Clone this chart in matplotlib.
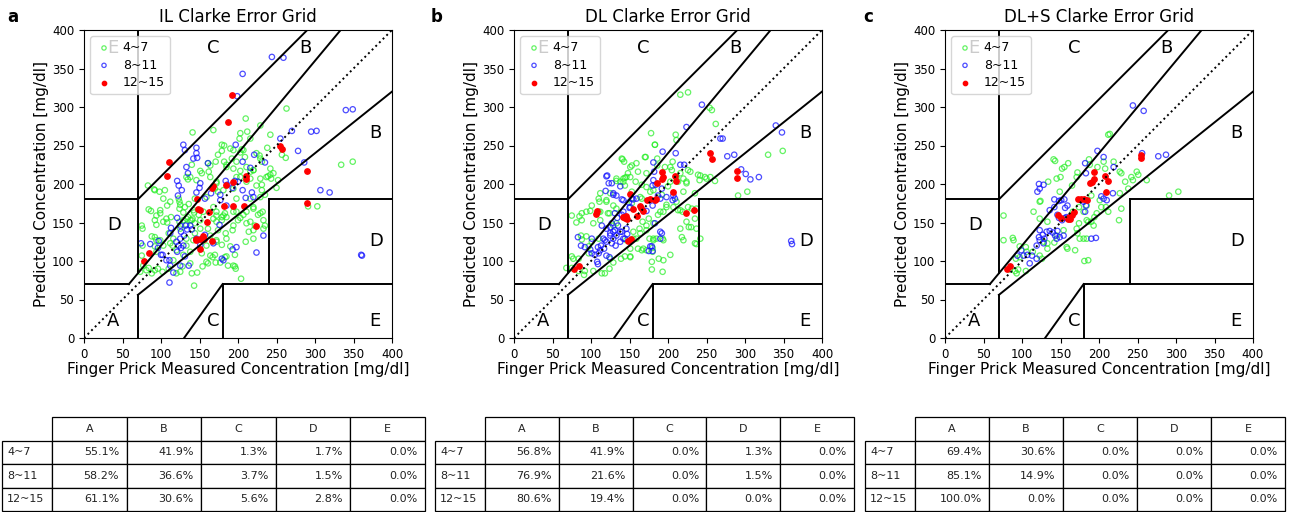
import numpy as np
import matplotlib
matplotlib.use("Agg")
import matplotlib.pyplot as plt

# ---------------- data ----------------
titles = ["IL Clarke Error Grid", "DL Clarke Error Grid", "DL+S Clarke Error Grid"]
panel_letters = ["a", "b", "c"]
group_labels = ["4~7", "8~11", "12~15"]
zones = ["A", "B", "C", "D", "E"]

# panel a (IL)
il_47 = [(263,298),(210,285),(229,276),(168,270),(141,267),(203,266),(212,268),(216,259),(202,259),(242,264),(182,250),
         (194,244),(205,245),(203,241),(238,247),(179,243),
         (228,237),(229,233),(231,229),(257,238),(262,234),(171,229),(182,229),(209,235),(198,229),(192,233),
         (164,224),(162,216),(151,217),(185,222),(203,217),(211,222),(216,216),(242,220),(220,218),(334,225),(349,229),
         (138,209),(135,206),(164,209),(172,203),(242,212),(243,207),(239,210),(229,207),(203,209),(211,203),
         (83,198),(91,193),(170,194),(174,190),(252,205),(250,195),(224,198),(231,192),(194,194),(181,192),
         (98,190),(103,181),(123,181),(124,177),(136,174),(144,181),(159,183),(198,181),(216,181),(229,183),(235,186),
         (108,172),(124,168),(129,163),(143,163),(155,164),(168,170),(198,164),(207,160),(203,156),(226,160),(229,162),
         (232,164),(220,168),(84,167),(87,165),(99,162),(291,171),(303,171),
         (113,157),(107,155),(108,150),(124,151),(133,155),(138,153),(141,155),(149,160),(151,153),(168,155),(172,159),
         (179,157),(181,159),(185,157),(183,162),(194,146),(94,147),(75,146),(76,142),(222,146),(235,146),(94,159),(216,151),
         (193,140),(184,136),(185,129),(214,138),(220,129),(233,142),(210,125),(94,127),(92,131),(110,136),(116,129),
         (133,129),(144,136),(164,133),(172,125),(151,142),(125,142),
         (76,120),(75,107),(164,107),(167,105),(138,112),(133,120),(159,120),(115,120),(94,112),(103,120),
         (77,94),(81,88),(73,86),(84,91),(88,84),(92,88),(96,90),(110,90),(120,84),(128,93),(140,84),(147,85),(154,93),
         (159,99),(171,98),(177,98),(183,105),(187,94),(194,94),(197,90),(204,77),(143,68),(102,86),(125,86),
         (179,251),(190,246),(174,238),(207,244),(224,240),(161,227),(185,225),(194,220),(198,209),(153,214),(140,225),
         (133,209),(146,205),(172,201),(220,218),(216,207),(231,199),(237,209),(246,214),(92,192),(105,192),(112,177),
         (125,173),(131,170),(142,166),(135,157),(140,153),(144,149),(129,153),(133,147),(99,166),(92,153),(103,151),
         (88,132),(99,127),(112,123),(92,119),(172,164),(179,153),(194,164),(172,151),(161,142),(174,140),(200,153),
         (211,149),(220,140),(211,164),(220,170),(233,153),(172,127),(179,121),(190,119),(196,108),(185,106),(170,108),
         (153,110),(142,127),(129,108),(120,114),(116,101),(138,97),(161,97),(196,93)]
il_811 = [(244,365),(259,364),(206,343),(199,314),(340,296),(349,297),(255,259),(270,269),(295,268),(302,269),(278,243),
          (286,228),(307,192),(319,189),(361,107),(360,108),
          (129,251),(131,244),(146,247),(146,240),(142,233),(147,234),(197,251),(221,238),(235,228),(216,221),(206,229),
          (121,204),(123,198),(127,192),(122,185),(133,222),(135,214),(161,227),(150,195),(146,189),(151,201),
          (184,204),(193,195),(196,204),(200,203),(206,192),(210,182),(218,189),(220,183),(165,188),(157,181),(177,179),
          (185,172),(177,186),(186,199),
          (121,156),(113,143),(125,146),(126,138),(132,146),(134,141),(112,136),(125,129),(129,120),(123,120),(126,117),
          (121,112),(138,146),(130,133),(120,125),
          (74,123),(86,122),(97,126),(96,117),(100,108),(102,108),(107,101),(111,101),(112,94),(111,72),(116,85),(136,94),
          (125,94),(131,106),(168,123),(176,147),(179,103),(181,101),(193,115),(198,118),(224,111),(233,133),(151,121),
          (146,129),(140,141),(157,134)]
il_1215 = [(192,315),(187,280),(110,229),(108,210),(255,250),(257,245),(290,217),(289,175),(166,195),(168,198),(184,199),
           (193,202),(211,211),(210,206),(147,180),(151,166),(162,164),(160,151),(193,172),(208,172),(224,146),(155,133),
           (150,129),(145,128),(146,127),(156,128),(151,115),(166,126),(84,110),(78,100),(148,167),(182,172)]

# panel b (DL)
dl_47 = [(216,316),(226,319),(254,299),(257,296),(262,278),(210,264),(211,257),(178,266),(183,251),(171,235),(141,232),
         (143,229),(159,227),(153,224),(148,214),(146,209),(133,204),(142,207),(144,208),(158,203),(166,199),(172,196),
         (186,233),(186,224),(206,229),(203,222),(226,218),(229,216),(216,214),(220,207),(224,203),(242,211),(241,205),
         (250,207),(255,209),(261,204),(330,238),(349,243),(291,185),(303,190),(110,181),(111,177),(120,179),(125,188),
         (75,159),(88,162),(85,158),(99,165),(81,150),(112,164),(129,146),(133,149),(75,106),(77,103),(68,91),(75,91),
         (84,87),(91,82),(92,87),(103,87),(114,84),(118,84),(124,90),(87,133),(88,128),(97,119),(101,125),(125,103),
         (129,98),(139,103),(144,106),(151,105),(151,116),(166,114),(168,116),(176,129),(181,129),(185,129),(193,129),
         (180,117),(180,112),(188,103),(194,101),(193,86),(179,99),(179,89),(227,144),(230,144),(218,131),(220,127),
         (237,122),(242,129),(231,168),(237,168),(213,166),(219,164),
         (138,203),(144,198),(153,190),(166,181),(177,190),(167,151),(172,146),(187,160),(194,164),(198,170),(207,170),
         (211,177),(220,190),(235,188),(213,203),(203,203),(175,155),(163,142),(155,138),(110,164),(101,172),(124,162),
         (129,172),(110,129),(97,110),(84,103),(146,127),(159,129),(235,155),
         (183,251),(170,235),(140,233),(151,222),(161,216),(133,207),(142,203),(151,209),(172,214),(196,222),(205,218),
         (211,209),(224,201),(239,212),(248,209),(112,188),(120,177),(94,164),(88,153),(103,149),(94,132),(112,153),
         (122,162),(133,168),(153,175),(164,183),(181,192),(192,186),(200,197),(198,173),(190,164),(181,149),(172,140),
         (164,136),(155,129),(181,127),(194,127),(172,114),(161,116),(151,106),(203,108),(216,142),(224,151),(216,166),
         (226,170),(237,142),(235,123)]
dl_811 = [(244,303),(224,274),(268,259),(271,259),(193,242),(210,240),(277,236),(286,238),(340,276),(348,267),(295,219),
          (301,213),(307,206),(318,209),(216,225),(221,225),(181,228),(182,216),(121,211),(123,201),(119,191),(129,186),
          (133,185),(140,180),(149,176),(151,170),(181,205),(180,198),(184,199),(192,194),(187,185),(190,181),(198,183),
          (207,185),(206,179),(209,181),(180,172),(159,181),(155,180),(142,164),(140,160),(150,169),(131,162),(134,156),
          (172,165),(183,149),(146,142),
          (114,146),(120,142),(125,144),(129,138),(135,146),(140,138),(125,133),(116,129),(120,125),(127,123),(132,120),
          (138,125),(144,129),(147,135),(133,133),(129,129),
          (83,131),(87,120),(92,118),(99,115),(101,110),(105,108),(110,110),(112,114),(108,99),(109,96),(120,107),
          (124,105),(113,120),(117,116),(179,119),(175,113),(180,113),(360,126),(361,122),(190,138),(192,136),
          (120,210),(127,201),(138,197),(129,188),(142,179),(153,181),(127,149),(131,140),(125,136),(138,138),(142,129),
          (118,127),(109,118),(101,129),(177,119),(190,129)]
dl_1215 = [(255,240),(257,233),(290,217),(289,208),(192,215),(192,207),(194,209),(209,211),(211,204),(206,189),(186,201),
           (151,187),(173,179),(176,181),(183,179),(185,181),(163,171),(165,169),(167,165),(155,168),(142,157),(144,156),
           (147,155),(145,159),(108,165),(106,161),(150,127),(152,129),(148,126),(223,162),(234,166),(84,94),(78,89),
           (160,158)]

# panel c (DL+S)
dls_47 = [(212,264),(214,265),(141,232),(143,230),(152,220),(155,222),(160,227),(145,207),(150,209),(134,203),(172,215),
          (171,209),(187,232),(188,225),(198,222),(206,229),(208,220),(219,229),(227,216),(229,214),(249,216),(251,212),
          (242,209),(244,205),(262,205),(234,203),(238,194),(227,188),(291,185),(303,190),(123,177),(124,178),(76,159),
          (76,127),(88,130),(89,127),(97,119),(105,118),(97,105),(92,103),(84,89),(91,87),(93,84),(95,89),(105,87),
          (114,112),(123,107),(126,103),(133,123),(133,116),(142,124),(158,118),(159,116),(169,114),(172,136),(175,129),
          (180,129),(184,129),(181,100),(186,101),(184,153),(186,151),(190,151),(193,146),(194,157),(197,162),(203,170),
          (209,170),(212,164),(166,164),(174,170),(174,149),(171,142),(229,168),(226,153),(190,185),(201,179),(123,155),
          (133,151),(115,164),(149,190),(165,198),(145,133),(154,140),(180,164),(184,172),(128,125),(106,112)]
dls_811 = [(244,302),(258,295),(198,243),(206,235),(256,240),(277,236),(287,238),(182,227),(183,214),(219,222),(122,200),
           (123,194),(120,190),(128,199),(142,180),(148,178),(151,179),(155,180),(142,170),(136,166),(156,169),(159,172),
           (180,177),(183,172),(203,184),(206,181),(210,179),(218,188),(146,160),(148,156),(152,153),(156,156),(158,157),
           (123,140),(127,134),(129,129),(132,138),(136,139),(140,137),(143,133),(145,129),(149,131),(146,139),(122,131),
           (123,127),(128,123),(119,120),(99,114),(102,107),(107,108),(113,107),(110,97),(94,107),(119,103),(154,133),
           (190,129),(196,130),(182,164)]
dls_1215 = [(254,238),(255,234),(193,216),(194,207),(191,202),(208,211),(212,204),(209,190),(188,201),(173,180),(176,180),
            (184,179),(180,181),(168,164),(165,160),(147,160),(150,156),(160,154),(162,155),(161,157),(84,94),(80,90)]

# zone percentages (rows: 4~7, 8~11, 12~15; cols: A..E)
il_table = [["55.1%", "41.9%", "1.3%", "1.7%", "0.0%"],
            ["58.2%", "36.6%", "3.7%", "1.5%", "0.0%"],
            ["61.1%", "30.6%", "5.6%", "2.8%", "0.0%"]]
dl_table = [["56.8%", "41.9%", "0.0%", "1.3%", "0.0%"],
            ["76.9%", "21.6%", "0.0%", "1.5%", "0.0%"],
            ["80.6%", "19.4%", "0.0%", "0.0%", "0.0%"]]
dls_table = [["69.4%", "30.6%", "0.0%", "0.0%", "0.0%"],
             ["85.1%", "14.9%", "0.0%", "0.0%", "0.0%"],
             ["100.0%", "0.0%", "0.0%", "0.0%", "0.0%"]]

panels = [(il_47, il_811, il_1215, il_table),
          (dl_47, dl_811, dl_1215, dl_table),
          (dls_47, dls_811, dls_1215, dls_table)]

# ---------------- figure ----------------
W, H = 1292, 512
fig = plt.figure(figsize=(W / 100, H / 100), dpi=100)

ax_left_px = [84, 514, 945]
tbl_px = [(2, 425), (435, 854), (865, 1285)]
letter_px = [13, 437, 868]


def draw_grid(ax):
    k = dict(color="black", lw=1.4)
    ax.plot([0, 400], [0, 400], ":", color="black", lw=1.4)
    ax.plot([0, 175 / 3], [70, 70], **k)
    ax.plot([175 / 3, 400 / 1.2], [70, 400], **k)
    ax.plot([70, 70], [84, 400], **k)
    ax.plot([0, 70], [180, 180], **k)
    ax.plot([70, 290], [180, 400], **k)
    ax.plot([70, 70], [0, 56], **k)
    ax.plot([70, 400], [56, 320], **k)
    ax.plot([180, 180], [0, 70], **k)
    ax.plot([180, 400], [70, 70], **k)
    ax.plot([240, 240], [70, 180], **k)
    ax.plot([240, 400], [180, 180], **k)
    ax.plot([130, 180], [0, 70], **k)
    fs = 13
    ax.text(30, 15, "A", fontsize=fs)
    ax.text(370, 260, "B", fontsize=fs)
    ax.text(280, 370, "B", fontsize=fs)
    ax.text(160, 370, "C", fontsize=fs)
    ax.text(160, 15, "C", fontsize=fs)
    ax.text(30, 140, "D", fontsize=fs)
    ax.text(370, 120, "D", fontsize=fs)
    ax.text(30, 370, "E", fontsize=fs)
    ax.text(370, 15, "E", fontsize=fs)


for i, (g, b, r, tab) in enumerate(panels):
    l = ax_left_px[i] / W
    ax = fig.add_axes([l, 1 - 338 / H, 308 / W, 308 / H])
    gx, gy = np.array(g).T
    bx, by = np.array(b).T
    rx, ry = np.array(r).T
    ax.scatter(gx, gy, s=15, facecolors="none", edgecolors="#22ee22", linewidths=0.9, alpha=0.7,
               label=group_labels[0], zorder=2)
    ax.scatter(bx, by, s=15, facecolors="none", edgecolors="#1111ff", linewidths=0.9, alpha=0.75,
               label=group_labels[1], zorder=2)
    ax.scatter(rx, ry, s=15, color="red", label=group_labels[2], zorder=2)
    draw_grid(ax)
    ax.set_xlim(0, 400)
    ax.set_ylim(0, 400)
    ax.set_xticks(range(0, 401, 50))
    ax.set_yticks(range(0, 401, 50))
    ax.tick_params(labelsize=8.5)
    ax.set_xlabel("Finger Prick Measured Concentration [mg/dl]", fontsize=11, labelpad=1)
    ax.set_ylabel("Predicted Concentration [mg/dl]", fontsize=11, labelpad=2)
    ax.set_title(titles[i], fontsize=12)
    ax.legend(loc="upper left", fontsize=9, handletextpad=0.8, borderpad=0.4, labelspacing=0.35,
              handlelength=1.4, markerscale=0.8)
    fig.text(letter_px[i] / W, 1 - 17 / H, panel_letters[i], fontsize=12, fontweight="bold",
             ha="center", va="center")

    # table
    x0, x1 = tbl_px[i]
    tax = fig.add_axes([x0 / W, 1 - 511 / H, (x1 - x0) / W, 94 / H])
    tax.axis("off")
    tot = x1 - x0
    lw = 50 / tot
    cw = (1 - lw) / 5
    cells = [[group_labels[j]] + list(tab[j]) for j in range(3)]
    t = tax.table(cellText=cells, colLabels=[""] + zones,
                  cellLoc="right", colLoc="center",
                  colWidths=[lw] + [cw] * 5, bbox=[0, 0, 1, 1])
    t.auto_set_font_size(False)
    t.set_fontsize(8)
    for (rr, cc), cell in t.get_celld().items():
        cell.set_linewidth(0.9)
        cell.get_text().set_color("#222222")
        if rr == 0 and cc == 0:
            cell.visible_edges = ""
        elif cc == 0:
            cell._loc = "left"
            cell.get_text().set_horizontalalignment("left")

fig.savefig("out.png", dpi=100)
